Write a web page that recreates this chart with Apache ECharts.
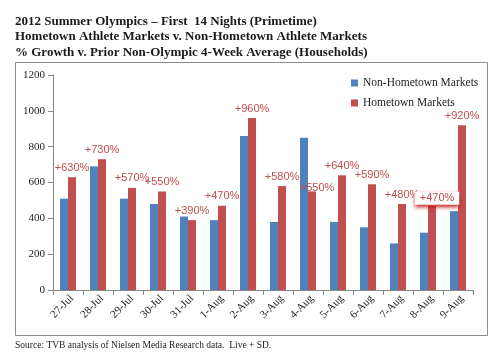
<!DOCTYPE html>
<html><head><meta charset="utf-8">
<script src="https://cdn.jsdelivr.net/npm/echarts@6/dist/echarts.min.js"></script>
<style>html,body{margin:0;padding:0;background:#fff}#c{width:501px;height:356px}</style>
</head><body><div id="c"></div>
<script>
const categories = ['27-Jul','28-Jul','29-Jul','30-Jul','31-Jul','1-Aug','2-Aug','3-Aug','4-Aug','5-Aug','6-Aug','7-Aug','8-Aug','9-Aug'];
const nonHometown = [510, 690, 510, 480, 410, 390, 860, 380, 850, 380, 350, 260, 320, 440];
const hometown = [630, 730, 570, 550, 390, 470, 960, 580, 550, 640, 590, 480, 470, 920];
const growthLabels = ['+630%','+730%','+570%','+550%','+390%','+470%','+960%','+580%','+550%','+640%','+590%','+480%','+470%','+920%'];
const yTicks = [0, 200, 400, 600, 800, 1000, 1200];
const titleLines = ['2012 Summer Olympics \u2013 First  14 Nights (Primetime)','Hometown Athlete Markets v. Non-Hometown Athlete Markets','% Growth v. Prior Non-Olympic 4-Week Average (Households)'];
const sourceText = 'Source: TVB analysis of Nielsen Media Research data.  Live + SD.';

const serif = '"Liberation Serif", serif';
const chart = echarts.init(document.getElementById('c'), null, {renderer:'canvas'});
const redData = hometown.map((v,i)=>{
  const item = {value:v};
  if (i===8) item.label = {offset:[5,6]};
  if (i===12) item.label = {offset:[5,3], backgroundColor:'#fff', padding:[1,5,1,5], shadowColor:'rgba(192,0,0,0.9)', shadowBlur:4, shadowOffsetY:2};
  return item;
});
chart.setOption({
  animation:false,
  backgroundColor:'#fff',
  title:{text:titleLines.join('\n'), left:15, top:14, padding:0, textStyle:{fontFamily:serif, fontWeight:'bold', fontSize:13, lineHeight:15.3, color:'#1a1a1a'}},
  graphic:[
    {type:'rect', shape:{x:15.5, y:62.5, width:472, height:273}, style:{fill:'none', stroke:'#8c8c8c', lineWidth:1}},
    {type:'text', left:15, top:340, style:{text:sourceText, font:'9.5px "Liberation Serif", serif', fill:'#222'}}
  ],
  legend:{orient:'vertical', left:346, top:72, itemWidth:7, itemHeight:7, itemGap:8, icon:'rect',
    textStyle:{fontFamily:serif, fontSize:11.5, color:'#222'},
    data:['Non-Hometown Markets','Hometown Markets']},
  grid:{left:53, right:28, top:75, bottom:66, containLabel:false},
  xAxis:{type:'category', data:categories,
    axisLine:{lineStyle:{color:'#868686'}},
    axisTick:{show:true, alignWithLabel:false, lineStyle:{color:'#868686'}},
    axisLabel:{rotate:45, verticalAlign:'top', fontFamily:serif, fontSize:11, color:'#222', margin:3}},
  yAxis:{type:'value', min:0, max:1200, interval:200,
    splitLine:{show:false},
    axisLine:{show:true, lineStyle:{color:'#868686'}},
    axisTick:{show:true, lineStyle:{color:'#868686'}},
    axisLabel:{fontFamily:serif, fontSize:11, color:'#222', margin:8,
      formatter:v=> yTicks.includes(v)? String(v):''}},
  series:[
    {name:'Non-Hometown Markets', type:'bar', data:nonHometown, barWidth:8, barGap:'0%', itemStyle:{color:'#4F81BD'}},
    {name:'Hometown Markets', type:'bar', data:redData, barWidth:8, barGap:'0%', itemStyle:{color:'#C0504D'},
      label:{show:true, position:'top', distance:4, color:'#C0504D', fontFamily:'"Liberation Sans", sans-serif', fontSize:11,
        formatter:p=>growthLabels[p.dataIndex]}}
  ]
});
</script></body></html>
